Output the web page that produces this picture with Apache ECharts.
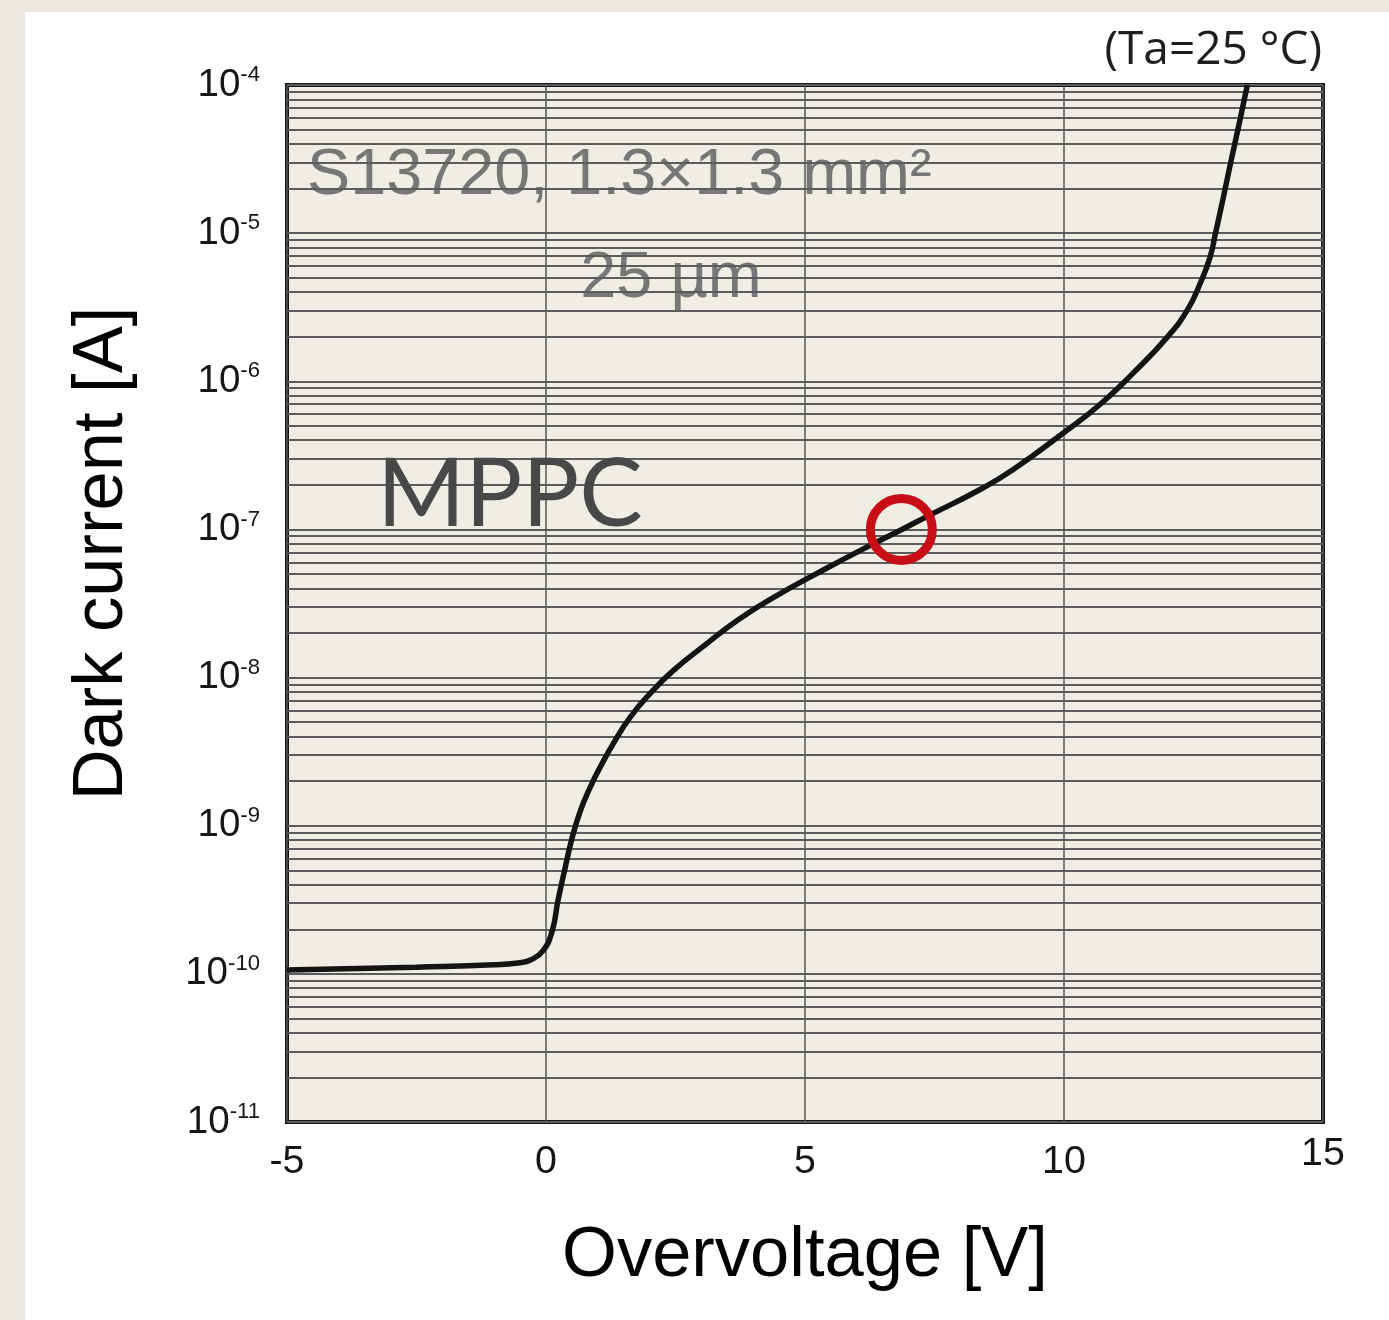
<!DOCTYPE html>
<html>
<head>
<meta charset="utf-8">
<script src="https://cdn.jsdelivr.net/npm/echarts@6/dist/echarts.min.js"></script>
<style>
  html, body { margin: 0; padding: 0; background: #ece8de; }
  #panel { position: absolute; left: 25px; top: 12px; width: 1364px; height: 1308px; background: #ffffff; }
  #chart { position: absolute; left: 0; top: 0; width: 1389px; height: 1320px; }
</style>
</head>
<body>
<div id="panel"></div>
<div id="chart"></div>
<script>
// ---- data ----
const voltage = [-5, -2.5, -1, -0.5, -0.3, -0.06, 0.12, 0.23, 0.37, 0.5, 0.66, 0.85, 1.06, 1.31, 1.62, 2.01, 2.45, 3.11, 3.69, 4.32, 5.48, 6.26, 6.87, 7.41, 8.38, 9.02, 9.98, 10.7, 11.33, 11.99, 12.38, 12.63, 12.82, 12.93, 13.07, 13.22, 13.38, 13.54];
const darkCurrent = [1.06e-10, 1.11e-10, 1.15e-10, 1.19e-10, 1.24e-10, 1.43e-10, 1.95e-10, 3.11e-10, 5.20e-10, 8.17e-10, 1.25e-9, 1.81e-9, 2.54e-9, 3.64e-9, 5.37e-9, 7.80e-9, 1.11e-8, 1.70e-8, 2.43e-8, 3.36e-8, 5.62e-8, 7.80e-8, 1.00e-7, 1.25e-7, 1.86e-7, 2.54e-7, 4.46e-7, 7.00e-7, 1.13e-6, 1.98e-6, 3.02e-6, 4.59e-6, 6.89e-6, 1.02e-5, 1.70e-5, 3.02e-5, 5.44e-5, 1.0e-4];
const markerPoint = [6.86, 1.0e-7];
const xTicks = [-5, 0, 5, 10, 15];
const yDecades = [-11, -10, -9, -8, -7, -6, -5, -4];
const minorMultipliers = [2, 3, 4, 5, 6, 7, 8, 9];

// ---- font detection ----
function hasFont(name) {
  const c = document.createElement('canvas').getContext('2d');
  const t = 'Overvoltage [V] 0123456789 mm';
  c.font = '40px monospace'; const a = c.measureText(t).width;
  c.font = '40px "' + name + '", monospace'; const b = c.measureText(t).width;
  c.font = '40px serif'; const a2 = c.measureText(t).width;
  c.font = '40px "' + name + '", serif'; const b2 = c.measureText(t).width;
  return a !== b || a2 !== b2;
}
const narrowOK = hasFont('Liberation Sans Narrow');
const NARROW = narrowOK ? '"Liberation Sans Narrow"' : '"Liberation Sans"';
const K = narrowOK ? 1 : 0.82;   // shrink if no narrow font

const xMin = xTicks[0], xMax = xTicks[xTicks.length - 1];
const curve = voltage.map((v, i) => [v, darkCurrent[i]]);
const minorLines = [];
yDecades.slice(0, -1).forEach(d => minorMultipliers.forEach(m => {
  const val = m * Math.pow(10, d);
  minorLines.push({ coords: [[xMin, val], [xMax, val]] });
}));

const gridColor = '#5c5c5c';
const labelColor = '#151515';

const chart = echarts.init(document.getElementById('chart'), null, { renderer: 'canvas' });
chart.setOption({
  animation: false,
  grid: {
    left: 287, right: 66, top: 85, bottom: 198, z: 0,
    show: true, backgroundColor: '#efede4', borderColor: '#151515', borderWidth: 4
  },
  xAxis: {
    type: 'value', min: xMin, max: xMax, interval: 5, z: 2,
    axisLine: { show: false }, axisTick: { show: false },
    splitLine: { show: true, lineStyle: { color: '#555555', width: 1.5 } },
    axisLabel: {
      margin: 17,
      formatter: v => v === 15 ? '{r|' + v + '}' : '{n|' + v + '}',
      rich: {
        n: { fontFamily: NARROW, fontSize: 48 * K, lineHeight: 47, color: labelColor },
        r: { fontFamily: NARROW, fontSize: 48 * K, lineHeight: 31, color: labelColor }
      }
    },
    name: 'Overvoltage [V]', nameLocation: 'middle', nameGap: 92,
    nameTextStyle: { fontFamily: NARROW, fontSize: 86 * K, lineHeight: 86, color: '#000' }
  },
  yAxis: {
    type: 'log', logBase: 10, min: 1e-11, max: 1e-4, interval: 1, z: 2,
    axisLine: { show: false }, axisTick: { show: false },
    splitLine: { show: true, lineStyle: { color: gridColor, width: 1.8 } },
    axisLabel: {
      margin: 27, align: 'right',
      formatter: v => '{b|10}{s|' + Math.round(Math.log10(v)) + '}',
      rich: {
        b: { fontFamily: NARROW, fontSize: 47 * K, lineHeight: 42, color: labelColor },
        s: { fontFamily: NARROW, fontSize: 27 * K, lineHeight: 27, verticalAlign: 'top', color: labelColor }
      }
    },
    name: 'Dark current [A]', nameLocation: 'middle', nameGap: 141,
    nameTextStyle: { fontFamily: NARROW, fontSize: 86 * K, lineHeight: 86, color: '#000', padding: [0, 0, 0, 100] }
  },
  graphic: [
    { type: 'text', x: 1322, y: 51, z: 100, silent: true,
      style: { text: '(Ta=25 °C)', font: '46px "Open Sans"', fill: '#1e1e1e', align: 'right', textAlign: 'right', verticalAlign: 'middle', textVerticalAlign: 'middle' } },
    { type: 'text', x: 307, y: 176, z: 1, silent: true,
      style: { text: 'S13720, 1.3×1.3 mm²', font: (79 * K) + 'px ' + NARROW, fill: '#777777', align: 'left', textAlign: 'left', verticalAlign: 'middle', textVerticalAlign: 'middle' } },
    { type: 'text', x: 671, y: 279, z: 1, silent: true,
      style: { text: '25 µm', font: (79 * K) + 'px ' + NARROW, fill: '#777777', align: 'center', textAlign: 'center', verticalAlign: 'middle', textVerticalAlign: 'middle' } },
    { type: 'text', x: 377, y: 495, z: 100, silent: true,
      style: { text: 'MPPC', font: '95px Lato', fill: '#484848', align: 'left', textAlign: 'left', verticalAlign: 'middle', textVerticalAlign: 'middle' } }
  ],
  series: [
    {
      type: 'lines', coordinateSystem: 'cartesian2d', z: 2, silent: true, polyline: false,
      lineStyle: { color: gridColor, width: 1.8, opacity: 1, type: 'solid' },
      data: minorLines
    },
    {
      type: 'line', data: curve, z: 3, showSymbol: false, symbol: 'none',
      smooth: 0.5,
      lineStyle: { color: '#141414', width: 5.5 }
    },
    {
      type: 'scatter', data: [markerPoint], z: 4, symbol: 'circle', symbolSize: 62,
      itemStyle: { color: 'rgba(0,0,0,0)', borderColor: '#c90d17', borderWidth: 9, opacity: 1 }
    }
  ]
});
</script>
</body>
</html>
